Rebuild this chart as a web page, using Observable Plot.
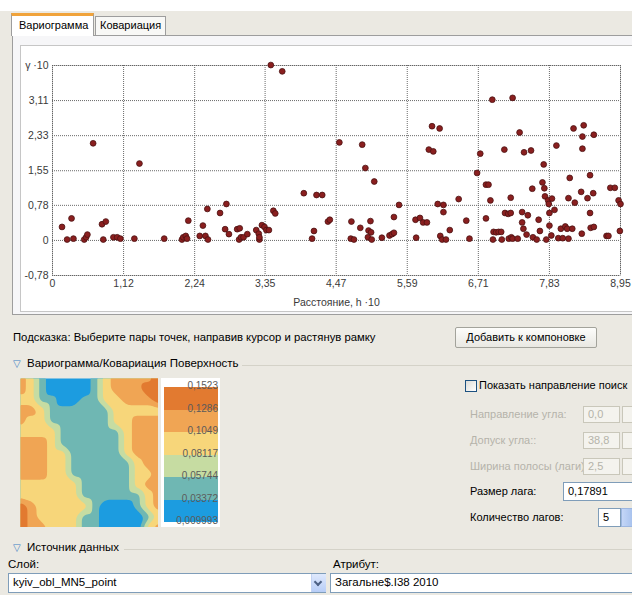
<!DOCTYPE html>
<html><head><meta charset="utf-8">
<script src="https://cdn.jsdelivr.net/npm/d3@7"></script>
<script src="https://cdn.jsdelivr.net/npm/@observablehq/plot@0.6"></script>
<style>
html,body{margin:0;padding:0;}
body{width:632px;height:595px;overflow:hidden;font-family:"Liberation Sans",Arial,sans-serif;font-size:11.5px;color:#000;}
#root{position:relative;width:632px;height:595px;background:#ebe9e2;overflow:hidden;}
.a{position:absolute;white-space:nowrap;}
.dis{color:#b5b3aa;}
.box{position:absolute;box-sizing:border-box;border:1px solid #c9c7ba;background:#f4f3ee;color:#b5b3aa;padding-left:4px;line-height:15px;}
.ebox{position:absolute;box-sizing:border-box;border:1px solid #7f9db9;background:#fff;color:#000;padding-left:4px;line-height:16px;}
.tri{color:#3b7fc4;font-family:"DejaVu Sans",sans-serif;font-size:10px;}
.line{position:absolute;height:1px;background:#d4d2c8;}
</style></head>
<body><div id="root">
<div class="a" style="left:0;top:0;width:632px;height:11px;background:#fff"></div>
<!-- tabs -->
<div class="a" style="left:12px;top:35px;width:630px;height:280px;background:#f6f6f8;border:1px solid #9d9d9d;box-sizing:border-box"></div>
<div class="a" style="left:11px;top:13px;width:83px;height:23px;background:#fff;border:1px solid #9d9d9d;border-bottom:none;border-top:3px solid #f0a33b;box-sizing:border-box;padding:3px 0 0 7px;font-size:11px;">Вариограмма</div>
<div class="a" style="left:95px;top:16px;width:71px;height:19px;background:#f8f8f6;border:1px solid #9d9d9d;border-bottom:none;box-sizing:border-box;padding:2px 0 0 4px;font-size:11px;">Ковариация</div>
<div class="a" style="left:20px;top:45px;width:620px;height:267px;background:#fff;border:1px solid #c6c6c6;box-sizing:border-box"></div>
<div id="chart" class="a" style="left:20px;top:45px;"></div>
<!-- hint & button -->
<div class="a" style="left:13px;top:331px;font-size:11.3px;">Подсказка: Выберите пары точек, направив курсор и растянув рамку</div>
<div class="a" style="left:455px;top:327px;width:142px;height:21px;box-sizing:border-box;border:1px solid #a3a39b;border-radius:2px;background:linear-gradient(#fdfdfb,#e9e8e2);text-align:center;line-height:19px;font-size:11px;">Добавить к компоновке</div>
<!-- section header -->
<div class="a tri" style="left:13px;top:358px;">▽</div>
<div class="a" style="left:27px;top:357px;">Вариограмма/Ковариация Поверхность</div>
<div class="line" style="left:242px;top:365px;width:400px;"></div>
<div id="map" class="a" style="left:20px;top:378px;width:138px;height:149px;"></div>
<div id="legend" class="a" style="left:161px;top:378px;width:59px;height:149px;background:#fff;"></div>
<!-- right controls -->
<div class="a" style="left:465px;top:380px;width:12px;height:12px;box-sizing:border-box;border:1px solid #1c5180;background:linear-gradient(135deg,#dcdcd7,#fff);"></div>
<div class="a" style="left:479px;top:379px;font-size:11px;">Показать направление поиск</div>
<div class="a dis" style="left:470px;top:408px;font-size:11px;">Направление угла:</div>
<div class="box" style="left:583px;top:406px;width:37px;height:17px;font-size:11px;">0,0</div>
<div class="box" style="left:622px;top:406px;width:20px;height:17px;"></div>
<div class="a dis" style="left:470px;top:434px;font-size:11px;">Допуск угла::</div>
<div class="box" style="left:583px;top:432px;width:37px;height:17px;font-size:11px;">38,8</div>
<div class="box" style="left:622px;top:432px;width:20px;height:17px;"></div>
<div class="a dis" style="left:470px;top:460px;font-size:11px;">Ширина полосы (лаги):</div>
<div class="box" style="left:583px;top:458px;width:37px;height:17px;font-size:11px;">2,5</div>
<div class="box" style="left:622px;top:458px;width:20px;height:17px;"></div>
<div class="a" style="left:470px;top:485px;font-size:11px;">Размер лага:</div>
<div class="ebox" style="left:563px;top:482px;width:80px;height:19px;font-size:11px;">0,17891</div>
<div class="a" style="left:470px;top:511px;font-size:11px;">Количество лагов:</div>
<div class="ebox" style="left:598px;top:508px;width:23px;height:19px;font-size:11px;">5</div>
<div class="a" style="left:621px;top:508px;width:12px;height:19px;background:linear-gradient(90deg,#c4d6f7,#a9c3ee);border:1px solid #9cb6e0;box-sizing:border-box"></div>
<!-- data source -->
<div class="a tri" style="left:13px;top:542px;">▽</div>
<div class="a" style="left:27px;top:541px;">Источник данных</div>
<div class="line" style="left:124px;top:549px;width:520px;"></div>
<div class="a" style="left:8px;top:558px;">Слой:</div>
<div class="ebox" style="left:8px;top:573px;width:318px;height:20px;line-height:17px;">kyiv_obl_MN5_point</div>
<div class="a" style="left:311px;top:574px;width:14px;height:18px;background:linear-gradient(#dfe9fd,#b7cdf7);border-left:1px solid #c3d3f3;"></div>
<div class="a" style="left:315px;top:579px;width:4px;height:4px;border-right:2px solid #4d6185;border-bottom:2px solid #4d6185;transform:rotate(45deg);"></div>
<div class="a" style="left:333px;top:558px;">Атрибут:</div>
<div class="ebox" style="left:330px;top:573px;width:320px;height:20px;line-height:17px;">Загальне$.I38 2010</div>
</div>
<script>
// ---- Variogram cloud data (distance h·10, semivariance γ·10) ----
const distance = [0.15,0.23,0.30,0.33,0.50,0.53,0.55,0.64,0.78,0.80,0.84,0.96,1.02,1.07,1.29,1.37,1.76,2.04,2.06,2.10,2.12,2.14,2.32,2.37,2.41,2.44,2.45,2.64,2.72,2.74,2.78,2.91,2.94,2.95,2.97,3.01,3.07,3.21,3.25,3.26,3.26,3.30,3.34,3.37,3.41,3.44,3.48,3.51,3.62,3.96,4.09,4.12,4.16,4.25,4.34,4.37,4.52,4.70,4.71,4.75,4.85,4.88,4.93,4.97,4.98,5.01,5.02,5.03,5.07,5.19,5.31,5.35,5.38,5.38,5.46,5.72,5.73,5.79,5.84,5.90,5.93,5.98,6.00,6.07,6.10,6.11,6.14,6.16,6.16,6.20,6.26,6.40,6.52,6.57,6.69,6.74,6.83,6.83,6.87,6.90,6.93,6.94,6.95,6.99,7.03,7.07,7.08,7.12,7.13,7.18,7.19,7.22,7.22,7.23,7.25,7.25,7.33,7.36,7.40,7.40,7.42,7.43,7.47,7.49,7.54,7.56,7.57,7.63,7.66,7.68,7.72,7.74,7.75,7.76,7.78,7.81,7.82,7.83,7.83,7.86,7.87,7.91,7.94,7.97,8.01,8.04,8.08,8.11,8.13,8.13,8.15,8.19,8.21,8.23,8.33,8.34,8.35,8.35,8.37,8.43,8.47,8.47,8.48,8.52,8.53,8.53,8.73,8.76,8.79,8.86,8.92,8.95,8.94];
const gamma = [0.30,0.02,0.49,0.04,0.02,0.07,0.13,2.16,0.36,0.02,0.42,0.07,0.07,0.04,0.04,1.71,0.04,0.02,0.07,0.10,0.04,0.44,0.10,0.33,0.10,0.70,0.02,0.61,0.25,0.81,0.14,0.25,0.02,0.27,0.07,0.07,0.14,0.23,0.15,0.02,0.07,0.34,0.30,0.23,0.23,3.90,0.66,0.60,3.76,1.05,0.04,0.21,1.01,1.01,0.42,0.46,2.18,0.04,0.42,0.02,0.28,2.13,1.61,0.07,0.22,0.43,0.18,0.02,1.31,0.06,0.11,0.14,0.17,0.52,0.79,0.46,0.06,0.50,0.40,0.40,2.02,2.54,1.98,0.81,2.49,0.10,0.02,0.79,0.63,0.02,0.23,0.92,0.44,0.04,1.50,1.93,1.24,0.49,1.24,0.89,3.13,0.02,0.19,0.18,0.19,0.19,0.02,2.02,0.61,0.59,0.04,0.61,0.95,0.07,3.17,0.04,0.04,2.40,0.63,0.40,0.26,1.96,0.13,0.56,2.00,1.15,0.07,0.02,0.46,0.21,1.29,1.69,1.16,0.98,0.02,0.89,0.81,0.61,0.33,0.11,0.93,0.68,2.11,0.05,0.26,0.05,0.31,0.26,0.04,0.94,1.39,0.26,2.49,0.84,1.08,0.15,2.31,2.04,2.56,0.94,1.45,0.61,0.28,1.05,2.35,0.30,0.10,0.10,1.17,1.17,0.89,0.81,0.21];
const xTicks = [0, 1.12, 2.24, 3.35, 4.47, 5.59, 6.71, 7.83, 8.95];
const xTickLabels = ["0", "1,12", "2,24", "3,35", "4,47", "5,59", "6,71", "7,83", "8,95"];
const yTicks = [-0.78, 0, 0.78, 1.55, 2.33, 3.11, 3.89];
const yTickLabels = ["-0,78", "0", "0,78", "1,55", "2,33", "3,11", "γ ·10"];

// ---- Variogram surface (estimated values on a 14 x 15 grid, rows top to bottom) ----
const surface = [
 [0.117,0.093,0.046,0.015,0.015,0.015,0.015,0.046,0.093,0.117,0.117,0.117,0.117,0.150],
 [0.117,0.093,0.046,0.015,0.015,0.015,0.015,0.046,0.093,0.117,0.117,0.117,0.150,0.150],
 [0.093,0.093,0.046,0.046,0.015,0.015,0.046,0.046,0.093,0.093,0.117,0.117,0.117,0.150],
 [0.117,0.117,0.093,0.046,0.046,0.046,0.046,0.046,0.046,0.093,0.093,0.093,0.093,0.093],
 [0.117,0.093,0.093,0.046,0.046,0.046,0.046,0.046,0.046,0.093,0.093,0.117,0.117,0.117],
 [0.093,0.093,0.093,0.093,0.046,0.046,0.046,0.046,0.046,0.046,0.093,0.117,0.117,0.117],
 [0.117,0.117,0.117,0.093,0.046,0.046,0.046,0.046,0.046,0.046,0.093,0.117,0.117,0.117],
 [0.117,0.117,0.117,0.093,0.093,0.046,0.046,0.046,0.046,0.046,0.093,0.117,0.117,0.117],
 [0.117,0.117,0.117,0.093,0.093,0.046,0.046,0.046,0.046,0.046,0.046,0.093,0.117,0.117],
 [0.117,0.117,0.117,0.093,0.093,0.046,0.046,0.046,0.046,0.046,0.046,0.093,0.093,0.117],
 [0.093,0.093,0.093,0.093,0.093,0.093,0.046,0.046,0.046,0.046,0.046,0.093,0.117,0.117],
 [0.093,0.093,0.093,0.093,0.093,0.093,0.046,0.046,0.046,0.046,0.046,0.046,0.093,0.117],
 [0.150,0.117,0.093,0.093,0.093,0.093,0.093,0.046,0.015,0.015,0.015,0.046,0.093,0.117],
 [0.150,0.117,0.093,0.093,0.093,0.093,0.046,0.046,0.015,0.015,0.015,0.015,0.046,0.093],
 [0.150,0.117,0.117,0.093,0.093,0.093,0.046,0.046,0.015,0.015,0.015,0.015,0.093,0.117]
];
const classBreaks = [0.009993, 0.03372, 0.05744, 0.08117, 0.1049, 0.1286, 0.1523];
const breakLabels = ["0,009993", "0,03372", "0,05744", "0,08117", "0,1049", "0,1286", "0,1523"];
const classColors = ["#1c9ce0", "#6fb7b3", "#c6dca2", "#f7d67a", "#f0a554", "#e27a30"];

const font = "'Liberation Sans', Arial, sans-serif";
const pts = distance.map((d, i) => ({h: d, g: gamma[i]}));
const xl = new Map(xTicks.map((t, i) => [t, xTickLabels[i]]));
const yl = new Map(yTicks.map((t, i) => [t, yTickLabels[i]]));

const chart = Plot.plot({
  width: 612, height: 268,
  marginLeft: 32, marginRight: 12, marginTop: 20, marginBottom: 38,
  style: {fontFamily: font, fontSize: "10.5px", color: "#3a3a3a", background: "transparent", overflow: "visible"},
  x: {domain: [0, 8.95]},
  y: {domain: [-0.78, 3.89]},
  marks: [
    Plot.frame({stroke: "#c4c4c4"}),
    Plot.gridX(xTicks, {stroke: "#5a5a5a", strokeOpacity: 0.9, strokeDasharray: "1,1"}),
    Plot.gridY(yTicks, {stroke: "#5a5a5a", strokeOpacity: 0.9, strokeDasharray: "1,1"}),
    Plot.axisX({ticks: xTicks, tickFormat: d => xl.get(d), tickSize: 0, tickPadding: 4,
      label: "Расстояние, h ·10", labelAnchor: "center", labelArrow: "none", labelOffset: 30}),
    Plot.axisY({ticks: yTicks, tickFormat: d => yl.get(d), tickSize: 0, tickPadding: 4, label: null}),
    Plot.dot(pts, {x: "h", y: "g", r: 2.9, fill: "#8a1f1f", stroke: "#4a1212", strokeWidth: 0.8})
  ]
});
document.getElementById("chart").append(chart);

const W = surface[0].length, H = surface.length;
const cells = surface.flatMap((row, r) => row.map((v, c) => ({c, r, v})));
let map;
try {
  map = Plot.plot({
    width: 138, height: 149, margin: 0,
    style: {background: "transparent"},
    x: {domain: [0, W - 1], axis: null},
    y: {domain: [0, H - 1], axis: null, reverse: true},
    color: {type: "threshold", domain: classBreaks.slice(1, 6), range: classColors},
    marks: [
      Plot.contour(cells, {x: "c", y: "r", fill: "v", interpolate: "barycentric", pixelSize: 1, blur: 2,
        thresholds: [0, ...classBreaks.slice(1, 6)], stroke: "none"})
    ]
  });
} catch (e) {
  console.error(e);
  map = Plot.plot({
    width: 138, height: 149, margin: 0,
    x: {domain: [0, W], axis: null},
    y: {domain: [0, H], axis: null, reverse: true},
    color: {type: "threshold", domain: classBreaks.slice(1, 6), range: classColors},
    marks: [Plot.contour(surface.flat(), {width: W, height: H, x1: 0, y1: 0, x2: W, y2: H,
        fill: Plot.identity, thresholds: [0, ...classBreaks.slice(1, 6)], stroke: "none"})]
  });
}
document.getElementById("map").append(map);

// legend
const leg = document.getElementById("legend");
const top0 = 9, step = 22.5;
for (let k = 0; k < 6; k++) {
  const d = document.createElement("div");
  d.className = "a";
  d.style.cssText = `left:3px;top:${top0 + k * step}px;width:54px;height:${step}px;background:${classColors[5 - k]}`;
  leg.append(d);
}
for (let k = 0; k < 7; k++) {
  const d = document.createElement("div");
  d.className = "a";
  d.style.cssText = `right:2px;top:${top0 + k * step - 7}px;font-size:10px;color:#5b5b5b;`;
  d.textContent = breakLabels[6 - k];
  leg.append(d);
}
</script>
</body></html>
